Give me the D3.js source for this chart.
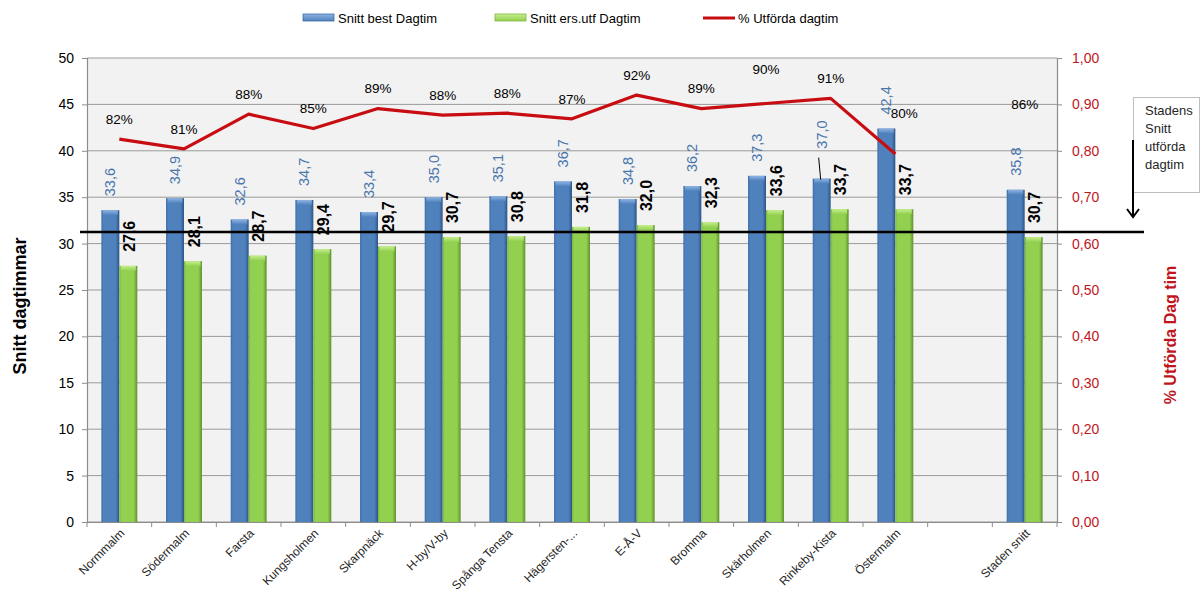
<!DOCTYPE html>
<html><head><meta charset="utf-8">
<script src="https://cdn.jsdelivr.net/npm/d3@7"></script>
<style>
html,body{margin:0;padding:0;background:#fff;}
svg{display:block;font-family:"Liberation Sans",Arial,sans-serif;}
</style></head>
<body>
<svg id="c" width="1203" height="603"></svg>
<script>
// ---- data ----
const categories = ["Normmalm","Södermalm","Farsta","Kungsholmen","Skarpnäck","H-by/V-by","Spånga Tensta","Hägersten-...","E-Å-V","Bromma","Skärholmen","Rinkeby-Kista","Östermalm","","Staden snitt"];
const snittBest = [33.6,34.9,32.6,34.7,33.4,35.0,35.1,36.7,34.8,36.2,37.3,37.0,42.4,null,35.8];
const snittErs  = [27.6,28.1,28.7,29.4,29.7,30.7,30.8,31.8,32.0,32.3,33.6,33.7,33.7,null,30.7];
const pctUtf    = [0.825,0.804,0.879,0.848,0.891,0.877,0.881,0.869,0.920,0.891,0.902,0.913,0.793,null,0.857];
const pctLabels = ["82%","81%","88%","85%","89%","88%","88%","87%","92%","89%","90%","91%","80%",null,"86%"];
const leftTicks = [0,5,10,15,20,25,30,35,40,45,50];
const rightTicks = [0,0.1,0.2,0.3,0.4,0.5,0.6,0.7,0.8,0.9,1.0];
const stadensSnittLine = 31.25; // drawn reference line (left axis units)
const legendItems = ["Snitt best Dagtim","Snitt ers.utf Dagtim","% Utförda dagtim"];
const noteLines = ["Stadens","Snitt","utförda","dagtim"];

const svg = d3.select("#c");
const L = 87, R = 1057, T = 58, B = 522;
const idx = categories.map((d,i)=>i);
const x0 = d3.scaleBand().domain(idx).range([L,R]).padding(0);
const x1 = d3.scaleBand().domain(["best","ers"]).range([0,x0.bandwidth()]).paddingInner(0).paddingOuter(0.8);
const yL = d3.scaleLinear().domain([0,50]).range([B,T]);
const yR = d3.scaleLinear().domain([0,1]).range([B,T]);
const fmt1 = v => d3.format(".1f")(v).replace(".",",");
const fmt2 = v => d3.format(".2f")(v).replace(".",",");

// gradients
const defs = svg.append("defs");
function hgrad(id, stops){
  const g = defs.append("linearGradient").attr("id",id).attr("x1","0").attr("x2","1").attr("y1","0").attr("y2","0");
  stops.forEach(s=>g.append("stop").attr("offset",s[0]).attr("stop-color",s[1]));
}
hgrad("gBlue",[[0,"#3d6da6"],[0.12,"#4f81bd"],[0.8,"#4f81bd"],[1,"#2c5587"]]);
hgrad("gGreen",[[0,"#7fb640"],[0.12,"#92d050"],[0.8,"#92d050"],[1,"#5f8f2a"]]);
const vb = defs.append("linearGradient").attr("id","capBlue").attr("x1","0").attr("x2","0").attr("y1","0").attr("y2","1");
vb.append("stop").attr("offset",0).attr("stop-color","#8fb4e3");
vb.append("stop").attr("offset",1).attr("stop-color","#4f81bd");
const vg = defs.append("linearGradient").attr("id","capGreen").attr("x1","0").attr("x2","0").attr("y1","0").attr("y2","1");
vg.append("stop").attr("offset",0).attr("stop-color","#c7ef8f");
vg.append("stop").attr("offset",1).attr("stop-color","#92d050");

// plot background
svg.append("rect").attr("x",L).attr("y",T).attr("width",R-L).attr("height",B-T).attr("fill","#f2f2f2");

// gridlines
svg.append("g").selectAll("line").data(leftTicks).join("line")
  .attr("x1",L).attr("x2",R).attr("y1",d=>yL(d)).attr("y2",d=>yL(d))
  .attr("stroke","#9a9a9a").attr("stroke-width",1);

// axes
const axL = svg.append("g").attr("transform",`translate(${L},0)`)
  .call(d3.axisLeft(yL).tickValues(leftTicks).tickSize(5).tickPadding(8).tickFormat(d3.format("d")));
const axR = svg.append("g").attr("transform",`translate(${R},0)`)
  .call(d3.axisRight(yR).tickValues(rightTicks).tickSize(5).tickPadding(10).tickFormat(fmt2));
const axB = svg.append("g").attr("transform",`translate(0,${B})`)
  .call(d3.axisBottom(x0).tickValues([]).tickSize(0));
[axL,axR,axB].forEach(a=>{
  a.select(".domain").attr("stroke","#8c8c8c").attr("stroke-width",1.2);
  a.selectAll(".tick line").attr("stroke","#8c8c8c");
  a.selectAll("text").attr("font-family","Liberation Sans, Arial, sans-serif").attr("font-size",14);
});
axL.selectAll("text").attr("fill","#000");
axR.selectAll("text").attr("fill","#c0151d");
// category boundary ticks
svg.append("g").selectAll("line").data(d3.range(categories.length+1)).join("line")
  .attr("x1",d=>L+d*x0.step()).attr("x2",d=>L+d*x0.step()).attr("y1",B).attr("y2",B+5)
  .attr("stroke","#8c8c8c");
// category labels
svg.append("g").selectAll("text").data(idx.filter(i=>categories[i])).join("text")
  .attr("transform",i=>`translate(${x0(i)+x0.bandwidth()/2+6},${B+12}) rotate(-45)`)
  .attr("text-anchor","end").attr("font-size",12).attr("fill","#262626")
  .text(i=>categories[i]);

// bars
const gBars = svg.append("g");
function drawBars(vals,key,fill,cap){
  const g = gBars.append("g");
  const data = idx.filter(i=>vals[i]!=null);
  g.selectAll("rect.b").data(data).join("rect").attr("class","b")
    .attr("x",i=>x0(i)+x1(key)).attr("width",x1.bandwidth())
    .attr("y",i=>yL(vals[i])).attr("height",i=>yL(0)-yL(vals[i]))
    .attr("fill",`url(#${fill})`);
  g.selectAll("rect.c").data(data).join("rect").attr("class","c")
    .attr("x",i=>x0(i)+x1(key)+1.5).attr("width",x1.bandwidth()-3)
    .attr("y",i=>yL(vals[i])).attr("height",5)
    .attr("fill",`url(#${cap})`);
}
drawBars(snittBest,"best","gBlue","capBlue");
drawBars(snittErs,"ers","gGreen","capGreen");

// line
const line = d3.line().defined(d=>d!=null)
  .x((d,i)=>x0(i)+x0.bandwidth()/2).y(d=>yR(d));
svg.append("path").datum(pctUtf).attr("d",line)
  .attr("fill","none").attr("stroke","#c80d12").attr("stroke-width",3.2).attr("stroke-linejoin","round");

// blue value labels
const blueLift = {11:16};
svg.append("g").selectAll("text").data(idx.filter(i=>snittBest[i]!=null)).join("text")
  .attr("transform",i=>`translate(${x0(i)+x1("best")+x1.bandwidth()/2},${yL(snittBest[i])-14-(blueLift[i]||0)}) rotate(-90)`)
  .attr("dy","0.35em").attr("font-size",14.5).attr("fill","#4a76ad")
  .text(i=>fmt1(snittBest[i]));
// leader line for lifted label
Object.keys(blueLift).forEach(k=>{
  const i=+k, cx=x0(i)+x1("best")+x1.bandwidth()/2;
  svg.append("line").attr("x1",cx-3).attr("y1",yL(snittBest[i])-21).attr("x2",cx-1).attr("y2",yL(snittBest[i])+1)
    .attr("stroke","#000").attr("stroke-width",1);
});

// green value labels
svg.append("g").selectAll("text").data(idx.filter(i=>snittErs[i]!=null)).join("text")
  .attr("transform",i=>`translate(${x0(i)+x1("ers")+x1.bandwidth()/2+1},${yL(snittErs[i])-14}) rotate(-90)`)
  .attr("dy","0.35em").attr("font-size",16).attr("font-weight","bold").attr("fill","#000")
  .text(i=>fmt1(snittErs[i]));

// percent labels
const pctNudge = {10:[0,-14],12:[9,-21]};
svg.append("g").selectAll("text").data(idx.filter(i=>pctUtf[i]!=null)).join("text")
  .attr("x",i=>x0(i)+x0.bandwidth()/2+((pctNudge[i]||[0,0])[0]))
  .attr("y",i=>yR(pctUtf[i])-20+((pctNudge[i]||[0,0])[1]))
  .attr("dy","0.35em").attr("text-anchor","middle").attr("font-size",13.5).attr("fill","#000")
  .text(i=>pctLabels[i]);

// reference line
svg.append("line").attr("x1",80).attr("x2",1144).attr("y1",yL(stadensSnittLine)).attr("y2",yL(stadensSnittLine))
  .attr("stroke","#000").attr("stroke-width",2.5);

// annotation box
svg.append("rect").attr("x",1133.5).attr("y",97.5).attr("width",66).attr("height",95)
  .attr("fill","#fff").attr("stroke","#bdbdbd");
svg.append("g").selectAll("text").data(noteLines).join("text")
  .attr("x",1145).attr("y",(d,i)=>115+i*18).attr("font-size",13).attr("fill","#262626").text(d=>d);
// arrow
svg.append("line").attr("x1",1133).attr("x2",1133).attr("y1",140).attr("y2",217).attr("stroke","#000").attr("stroke-width",2);
svg.append("path").attr("d","M1127,209 L1133,217 L1139,209").attr("fill","none").attr("stroke","#000").attr("stroke-width",2);

// axis titles
svg.append("text").attr("transform",`translate(20,306) rotate(-90)`)
  .attr("dy","0.35em").attr("text-anchor","middle").attr("font-size",18).attr("font-weight","bold").attr("fill","#000")
  .text("Snitt dagtimmar");
svg.append("text").attr("transform",`translate(1170,335) rotate(-90)`)
  .attr("dy","0.35em").attr("text-anchor","middle").attr("font-size",16).attr("font-weight","bold").attr("fill","#c0151d")
  .text("% Utförda Dag tim");

// legend
const lg = svg.append("g");
const lx = [303,495,703];
lg.append("rect").attr("x",lx[0]).attr("y",14).attr("width",31).attr("height",7).attr("fill","url(#capBlue)").attr("stroke","#3d6da6").attr("stroke-width",0.8);
lg.append("rect").attr("x",lx[1]).attr("y",14).attr("width",31).attr("height",7).attr("fill","url(#capGreen)").attr("stroke","#7fb640").attr("stroke-width",0.8);
lg.append("line").attr("x1",lx[2]).attr("x2",lx[2]+32).attr("y1",18).attr("y2",18).attr("stroke","#c80d12").attr("stroke-width",3);
lg.selectAll("text").data(legendItems).join("text")
  .attr("x",(d,i)=>lx[i]+35).attr("y",18).attr("dy","0.35em").attr("font-size",13).attr("fill","#000").text(d=>d);
</script>
</body></html>
